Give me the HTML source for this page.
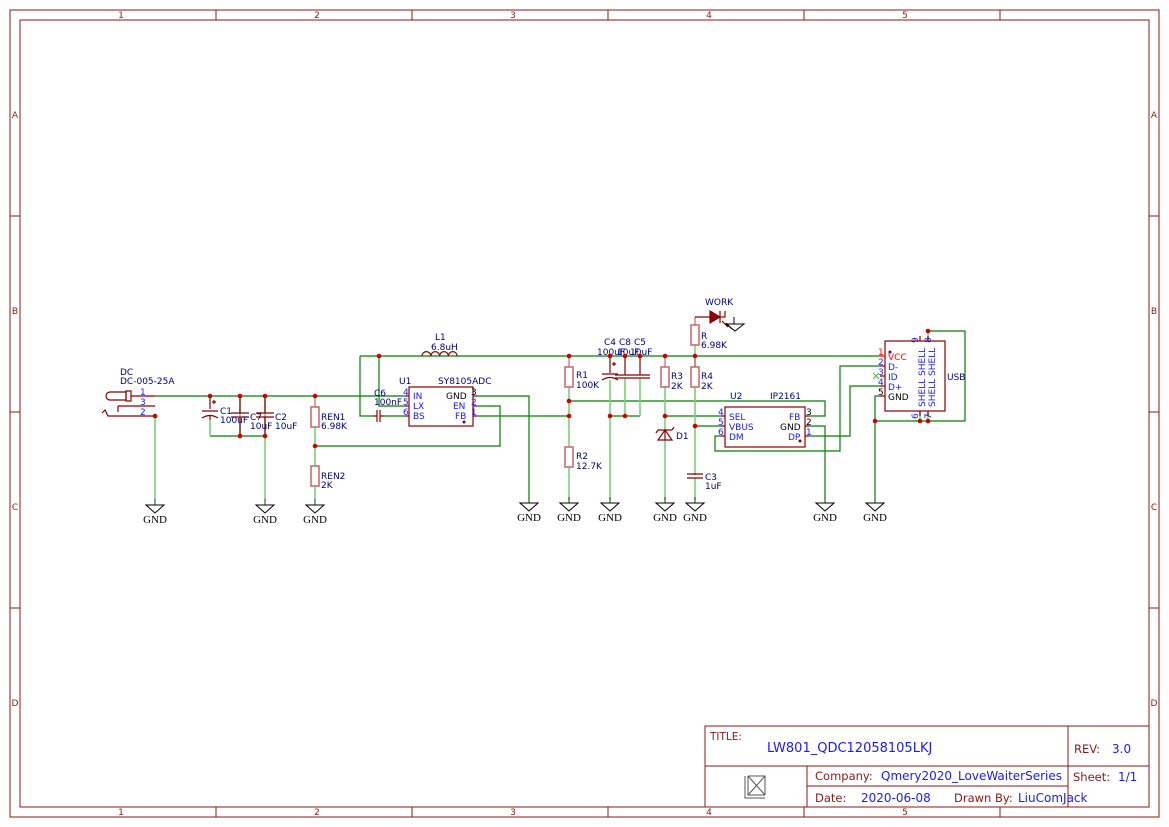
<!DOCTYPE html>
<html><head><meta charset="utf-8"><style>
html,body{margin:0;padding:0;background:#fff}
svg{display:block}
text{font-family:"DejaVu Sans","Liberation Sans",sans-serif}
.f{fill:none;stroke:#8b1a1a;stroke-width:1}
.w{stroke:#008000;stroke-width:1.2;fill:none}
.g{stroke:#7ccf7c;stroke-width:1.6;fill:none}
.c{stroke:#8b0000;stroke-width:1.2;fill:none}
.r{fill:none;stroke:#c86464;stroke-width:1.5}
.b{fill:#1a1aff;font-size:9px}
.d{fill:#000080;font-size:9px}
.gn{font-family:"Liberation Serif",serif;font-size:11px;fill:#000}
.fl{fill:#8b1a1a;font-size:9px}
.tl{fill:#8b1a1a;font-size:11.5px}
.tv{fill:#1a1aff;font-size:12px}
</style></head><body>
<svg width="1169" height="827" viewBox="0 0 1169 827" xmlns="http://www.w3.org/2000/svg">
<defs>
<g id="gnd"><line x1="0" y1="-6" x2="0" y2="0" stroke="#555" stroke-width="1.2"/><path d="M-9 0 H9 L0 8 Z" fill="none" stroke="#000" stroke-width="1"/><text x="0" y="18" text-anchor="middle" class="gn">GND</text></g>
<circle id="j" r="2.3" fill="#cc0000"/>
</defs>
<!-- frame -->
<rect x="10" y="10" width="1149" height="807" class="f"/>
<rect x="20" y="20" width="1129" height="787" class="f"/>
<g class="f">
<path d="M216 10V20M412 10V20M608 10V20M804 10V20M1000 10V20M216 807V817M412 807V817M608 807V817M804 807V817M1000 807V817"/>
<path d="M10 216H20M10 412H20M10 608H20M1149 216H1159M1149 412H1159M1149 608H1159"/>
</g>
<g class="fl" text-anchor="middle">
<text x="121" y="18">1</text><text x="317" y="18">2</text><text x="513" y="18">3</text><text x="709" y="18">4</text><text x="905" y="18">5</text>
<text x="121" y="815">1</text><text x="317" y="815">2</text><text x="513" y="815">3</text><text x="709" y="815">4</text><text x="905" y="815">5</text>
<text x="15" y="118">A</text><text x="15" y="314">B</text><text x="15" y="510">C</text><text x="15" y="706">D</text>
<text x="1154" y="118">A</text><text x="1154" y="314">B</text><text x="1154" y="510">C</text><text x="1154" y="706">D</text>
</g>
<!-- title block -->
<g class="f"><rect x="705" y="726" width="444" height="81"/><path d="M705 766H1149M807 786H1068M807 766V807M1068 726V807"/></g>
<text x="710" y="740" class="tl" style="font-size:10.5px">TITLE:</text>
<text x="767" y="752" class="tv" style="font-size:13px">LW801_QDC12058105LKJ</text>
<text x="1074" y="753" class="tl">REV:</text><text x="1112" y="753" class="tv">3.0</text>
<text x="815" y="780" class="tl">Company:</text><text x="881" y="780" class="tv" textLength="181">Qmery2020_LoveWaiterSeries</text>
<text x="1073" y="781" class="tl">Sheet:</text><text x="1118" y="781" class="tv">1/1</text>
<text x="815" y="802" class="tl">Date:</text><text x="861" y="802" class="tv">2020-06-08</text>
<text x="954" y="802" class="tl">Drawn By:</text><text x="1018" y="802" class="tv">LiuComJack</text>
<g stroke="#555" fill="none" stroke-width="1"><path d="M745 776V798H765M748 776V795H765M748 776L765 795M765 776L748 795M748 776H765V795"/></g>

<!-- wires -->
<g class="w">
<path d="M155 396H405"/>
<path d="M210 436H265"/>
<path d="M315 446H500V406H477"/>
<path d="M477 416H569"/>
<path d="M477 396H529V500"/>
<path d="M360 356H880"/>
<path d="M360 356V416H373M384 416H405"/>
<path d="M379 356V406H405"/>
<path d="M569 401H825V416H809"/>
<path d="M610 416H640"/>
<path d="M665 416H721"/>
<path d="M695 426H721"/>
<path d="M721 436H715V451H840V366H880"/>
<path d="M809 436H850V386H880"/>
<path d="M809 426H825V500"/>
<path d="M880 396H875V500"/>
<path d="M875 421H965V331H928"/>
</g>
<g class="g">
<path d="M155 416V500M210 420V436M240 396V436M265 396V500M315 427V466M315 486V500M569 387V447M569 467V500M610 380V500M625 378V416M640 378V416M665 387V430M665 440V500M695 345V367M695 387V474M695 478V500M920 411V421M928 331V341M928 411V421"/>
</g>
<!-- GND symbols -->
<use href="#gnd" x="155" y="505"/><use href="#gnd" x="265" y="505"/><use href="#gnd" x="315" y="505"/>
<use href="#gnd" x="529" y="503"/><use href="#gnd" x="569" y="503"/><use href="#gnd" x="610" y="503"/>
<use href="#gnd" x="665" y="503"/><use href="#gnd" x="695" y="503"/><use href="#gnd" x="825" y="503"/><use href="#gnd" x="875" y="503"/>
<!-- DC connector -->
<g class="c"><path d="M110 392 H126 V400 H110 A4 4 0 0 1 110 392Z"/><path d="M126 391V401H131V391Z"/><path d="M131 396H155M118 406H155M118 406V412M102 413L105 410L108 416H155"/></g>
<text x="120" y="375" class="d">DC</text><text x="120" y="384" class="d">DC-005-25A</text>
<text x="140" y="395" class="b">1</text><text x="140" y="405" class="b">3</text><text x="140" y="415" class="b">2</text>
<!-- caps -->
<g class="c">
<path d="M210 396V409M202 411H218M202 418Q210 413 218 418M210 415V420"/><path d="M212 402H216M214 400V404"/>
<path d="M240 396V413M231 413H249M231 417H249M240 417V436"/>
<path d="M265 396V413M256 413H274M256 417H274M265 417V436"/>
<path d="M373 416H377M377 410V422M380 410V422M380 416H384"/>
<path d="M610 356V373M602 374H618M602 380Q610 375 618 380"/><path d="M612 364H616M614 362V366"/>
<path d="M625 356V375M615 375H650M615 378H650M640 356V375"/>
<path d="M695 474V475M687 474H703M687 478H703"/>
</g>
<text x="220" y="414" class="d">C1</text><text x="220" y="423" class="d">100uF</text>
<text x="250" y="420" class="d">C7</text><text x="250" y="429" class="d">10uF</text>
<text x="275" y="420" class="d">C2</text><text x="275" y="429" class="d">10uF</text>
<text x="374" y="396" class="d">C6</text><text x="374" y="405" class="d">100nF</text>
<text x="604" y="345" class="d">C4</text><text x="619" y="345" class="d">C8</text><text x="634" y="345" class="d">C5</text>
<text x="597" y="355" class="d">100uF</text><text x="617" y="355" class="d">10uF</text><text x="630" y="355" class="d">10uF</text>
<text x="705" y="480" class="d">C3</text><text x="705" y="489" class="d">1uF</text>
<!-- resistors -->
<g class="r"><rect x="311" y="407" width="8" height="20"/><rect x="311" y="466" width="8" height="20"/><rect x="565" y="367" width="8" height="20"/><rect x="565" y="447" width="8" height="20"/><rect x="661" y="367" width="8" height="20"/><rect x="691" y="367" width="8" height="20"/><rect x="691" y="325" width="8" height="20"/></g>
<g class="r" style="stroke-width:1.2"><path d="M315 396V407M569 356V367M665 356V367M695 356V367M695 317V325"/></g>
<text x="321" y="420" class="d">REN1</text><text x="321" y="429" class="d">6.98K</text>
<text x="321" y="479" class="d">REN2</text><text x="321" y="488" class="d">2K</text>
<text x="576" y="378" class="d">R1</text><text x="576" y="388" class="d">100K</text>
<text x="576" y="459" class="d">R2</text><text x="576" y="469" class="d">12.7K</text>
<text x="671" y="379" class="d">R3</text><text x="671" y="389" class="d">2K</text>
<text x="701" y="379" class="d">R4</text><text x="701" y="389" class="d">2K</text>
<text x="701" y="339" class="d">R</text><text x="701" y="348" class="d">6.98K</text>
<!-- inductor -->
<path class="c" d="M422 356a4.4 4.4 0 0 1 8.8 0a4.4 4.4 0 0 1 8.8 0a4.4 4.4 0 0 1 8.8 0a4.4 4.4 0 0 1 8.8 0" stroke="#c00"/>
<text x="435" y="340" class="d">L1</text><text x="431" y="350" class="d">6.8uH</text>
<!-- LED -->
<g class="c"><path d="M695 317H710M720 317H725V311"/><path d="M710 311L720 317L710 323Z" fill="#8b0000"/><path d="M720 311V323M722 321L728 327M726 323L732 329"/></g>
<path d="M734 317V324M726 324H744L735 331Z" fill="none" stroke="#000"/>
<text x="705" y="305" class="d">WORK</text>
<!-- zener -->
<g class="c"><path d="M665 430V440M658 440H672L665 430Z M658 430H672M658 430L656 433M672 430L674 427"/></g>
<text x="676" y="439" class="d">D1</text>
<!-- U1 -->
<g class="c"><rect x="409" y="387" width="64" height="39"/><path d="M405 396H409M405 406H409M405 416H409M473 396H477M473 406H477M473 416H477"/></g>
<circle cx="464" cy="422" r="1.5" fill="#8b0000"/>
<text x="399" y="384" class="d">U1</text><text x="438" y="384" class="d">SY8105ADC</text>
<text x="413" y="399" class="b">IN</text><text x="413" y="409" class="b">LX</text><text x="413" y="419" class="b">BS</text>
<text x="403" y="395" class="b">4</text><text x="403" y="405" class="b">5</text><text x="403" y="415" class="b">6</text>
<text x="446" y="399" font-size="9">GND</text><text x="453" y="409" class="b">EN</text><text x="455" y="419" class="b">FB</text>
<text x="471" y="395" font-size="9">3</text><text x="471" y="405" class="b">2</text><text x="471" y="415" class="b">1</text>
<!-- U2 -->
<g class="c"><rect x="725" y="407" width="80" height="40"/><path d="M721 416H725M721 426H725M721 436H725M805 416H809M805 426H809M805 436H809"/></g>
<circle cx="800" cy="441" r="1.5" fill="#8b0000"/>
<text x="730" y="399" class="d">U2</text><text x="770" y="399" class="d">IP2161</text>
<text x="729" y="420" class="b">SEL</text><text x="729" y="430" class="b">VBUS</text><text x="729" y="440" class="b">DM</text>
<text x="718" y="415" class="b">4</text><text x="718" y="425" class="b">5</text><text x="718" y="435" class="b">6</text>
<text x="789" y="420" class="b">FB</text><text x="780" y="430" font-size="9">GND</text><text x="788" y="440" class="b">DP</text>
<text x="806" y="415" font-size="9">3</text><text x="806" y="425" font-size="9">2</text><text x="806" y="435" class="b">1</text>
<!-- USB -->
<g class="c"><rect x="885" y="341" width="60" height="70"/><path d="M880 356H885M880 366H885M880 376H885M880 386H885M880 396H885M920 336V341M928 336V341M920 411V416M928 411V416"/></g>
<path d="M880 356H885" stroke="#f00"/>
<circle cx="890" cy="352" r="1.5" fill="#8b0000"/>
<path d="M873 373l6 6M879 373l-6 6" stroke="#3c3" stroke-width="1"/>
<text x="888" y="360" fill="#f00" font-size="9">VCC</text><text x="888" y="370" class="b">D-</text><text x="888" y="380" class="b">ID</text><text x="888" y="390" class="b">D+</text><text x="888" y="400" font-size="9">GND</text>
<text x="878" y="355" fill="#f00" font-size="9">1</text><text x="878" y="365" class="b">2</text><text x="878" y="375" class="b">3</text><text x="878" y="385" class="b">4</text><text x="878" y="395" font-size="9">5</text>
<text class="b" transform="translate(925,407) rotate(-90)">SHELL SHELL</text>
<text class="b" transform="translate(935,407) rotate(-90)">SHELL SHELL</text>
<text class="b" transform="translate(918,343) rotate(-90)">9</text><text class="b" transform="translate(931,343) rotate(-90)">8</text>
<text class="b" transform="translate(918,419) rotate(-90)">6</text><text class="b" transform="translate(931,419) rotate(-90)">7</text>
<text x="947" y="380" class="d">USB</text>
<!-- junctions -->
<g>
<use href="#j" x="155" y="416"/><use href="#j" x="210" y="396"/><use href="#j" x="240" y="396"/><use href="#j" x="265" y="396"/><use href="#j" x="315" y="396"/>
<use href="#j" x="240" y="436"/><use href="#j" x="265" y="436"/><use href="#j" x="315" y="446"/><use href="#j" x="379" y="356"/>
<use href="#j" x="569" y="356"/><use href="#j" x="610" y="356"/><use href="#j" x="625" y="356"/><use href="#j" x="640" y="356"/><use href="#j" x="665" y="356"/><use href="#j" x="695" y="356"/>
<use href="#j" x="569" y="401"/><use href="#j" x="569" y="416"/><use href="#j" x="610" y="416"/><use href="#j" x="625" y="416"/><use href="#j" x="665" y="416"/><use href="#j" x="695" y="426"/>
<use href="#j" x="875" y="421"/><use href="#j" x="920" y="421"/><use href="#j" x="928" y="421"/><use href="#j" x="928" y="331"/>
</g>
</svg>
</body></html>
